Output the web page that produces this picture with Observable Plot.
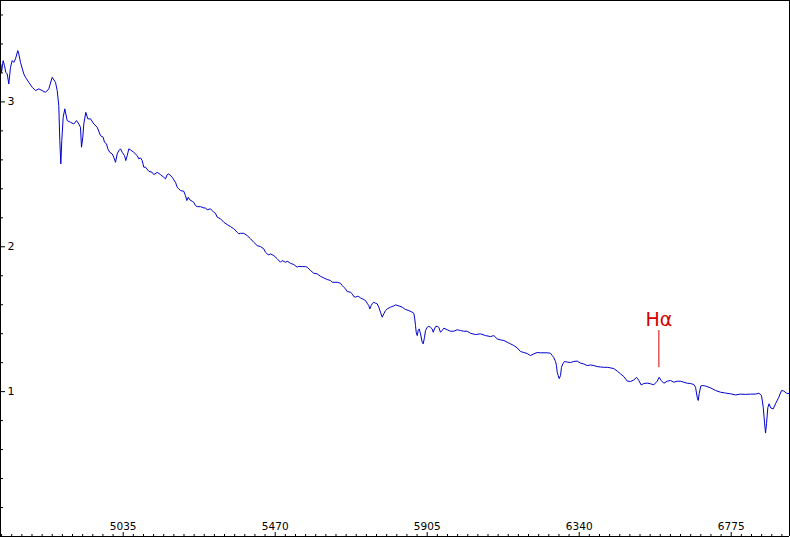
<!DOCTYPE html>
<html>
<head>
<meta charset="utf-8">
<script src="https://cdn.jsdelivr.net/npm/d3@7"></script>
<script src="https://cdn.jsdelivr.net/npm/@observablehq/plot@0.6"></script>
<style>
  html, body { margin: 0; padding: 0; background: #fff; }
  #chart svg { display: block; }
</style>
</head>
<body>
<div id="chart"></div>
<script>
// Wavelength (Angstrom) and relative flux
const wavelength = [
4685.3,4686.8,4691.6,4695.3,4699.1,4703.1,4707.7,4712.5,4717.4,4721.9,4726.8,4733.4,4736.3,4741.1,4750.6,4755.4,4764.9,4774.6,4784.1,4793.5,
4803.2,4812.7,4822.1,4831.9,4841.3,4846.2,4850.7,4853.6,4856.5,4859.3,4863.3,4867.9,4874.8,4884.2,4893.7,4901.4,4908.0,4912.8,4915.7,4919.4,
4922.3,4928.0,4933.7,4941.5,4950.9,4960.6,4970.1,4977.8,4981.5,4987.3,4991.0,4996.7,5003.6,5008.1,5013.0,5017.9,5022.5,5027.3,5032.2,5038.8,
5042.5,5046.5,5051.1,5056.0,5065.4,5075.1,5079.7,5084.5,5089.4,5094.0,5098.9,5108.3,5118.0,5122.6,5132.3,5141.8,5151.2,5156.1,5160.9,5165.5,
5175.3,5179.9,5184.7,5189.6,5194.1,5199.0,5208.5,5213.3,5217.1,5221.1,5225.6,5232.5,5237.1,5241.9,5246.8,5256.3,5265.7,5270.6,5275.4,5284.9,
5289.7,5294.3,5299.2,5304.0,5308.6,5313.5,5323.0,5332.7,5342.1,5351.6,5361.3,5365.9,5370.7,5380.2,5389.9,5399.4,5408.8,5418.5,5428.0,5437.4,
5442.3,5447.1,5451.7,5456.6,5466.0,5475.8,5485.2,5490.1,5499.5,5504.4,5513.8,5523.3,5533.0,5537.6,5547.3,5556.7,5561.6,5571.1,5580.5,5590.2,
5599.7,5609.1,5618.8,5628.3,5633.2,5647.5,5656.9,5661.8,5666.4,5671.2,5676.1,5685.5,5690.4,5695.0,5699.8,5704.7,5709.3,5714.1,5723.6,5728.4,
5733.3,5737.9,5740.7,5744.7,5748.5,5752.2,5757.1,5761.9,5766.5,5771.4,5776.2,5780.8,5785.7,5790.5,5800.0,5809.4,5814.3,5823.7,5833.4,5842.9,
5852.4,5862.1,5866.7,5869.5,5871.5,5873.6,5876.4,5879.3,5882.1,5885.9,5890.7,5893.6,5897.3,5900.2,5905.0,5909.6,5914.4,5919.3,5922.2,5925.9,
5928.8,5933.6,5938.2,5943.1,5948.0,5952.5,5962.3,5971.7,5981.2,5990.9,6000.3,6009.8,6019.5,6028.9,6043.2,6057.6,6071.9,6086.2,6095.6,6105.3,
6114.8,6124.3,6134.0,6143.4,6152.9,6162.6,6172.0,6181.5,6191.2,6200.6,6210.1,6219.8,6229.3,6248.4,6257.8,6262.7,6267.3,6272.2,6275.0,6277.0,
6279.9,6282.7,6286.5,6289.3,6293.1,6297.9,6305.7,6315.1,6324.6,6334.3,6343.7,6353.2,6362.9,6372.3,6381.8,6391.5,6401.0,6410.4,6420.1,6429.6,
6439.0,6448.7,6458.2,6467.6,6477.4,6486.8,6496.3,6504.0,6510.6,6517.4,6524.9,6534.6,6544.1,6553.5,6563.2,6568.9,6574.7,6582.1,6591.9,6601.3,
6610.8,6620.5,6630.0,6639.4,6649.1,6658.5,6668.0,6672.9,6677.7,6680.6,6683.4,6688.0,6692.1,6701.5,6715.8,6730.2,6744.5,6758.8,6773.1,6787.4,
6801.6,6816.0,6830.3,6844.6,6854.0,6861.7,6866.6,6870.3,6873.2,6876.0,6879.8,6883.2,6888.3,6895.2,6901.8,6911.2,6918.9,6925.5,6933.2,6939.8
];
const flux = [
3.257,3.204,3.285,3.251,3.204,3.193,3.124,3.239,3.285,3.273,3.297,3.354,3.331,3.273,3.193,3.170,3.135,3.101,3.078,3.090,
3.078,3.066,3.090,3.170,3.135,3.078,2.974,2.733,2.572,2.733,2.894,2.952,2.871,2.859,2.848,2.871,2.848,2.825,2.687,2.756,
2.848,2.928,2.883,2.883,2.848,2.825,2.767,2.756,2.721,2.710,2.676,2.652,2.641,2.618,2.583,2.641,2.664,2.676,2.652,2.629,
2.595,2.629,2.676,2.669,2.652,2.629,2.607,2.614,2.595,2.549,2.549,2.521,2.514,2.498,2.514,2.498,2.480,2.469,2.498,2.503,
2.480,2.462,2.445,2.411,2.400,2.388,2.383,2.353,2.319,2.342,2.324,2.314,2.307,2.284,2.277,2.277,2.268,2.268,2.255,2.262,
2.250,2.238,2.231,2.204,2.199,2.193,2.169,2.153,2.139,2.124,2.100,2.089,2.093,2.093,2.077,2.055,2.031,2.008,2.001,1.986,
1.962,1.951,1.944,1.951,1.939,1.917,1.893,1.905,1.893,1.900,1.886,1.877,1.859,1.865,1.863,1.863,1.859,1.836,1.817,1.813,
1.796,1.785,1.774,1.767,1.755,1.755,1.748,1.732,1.720,1.710,1.691,1.686,1.675,1.656,1.652,1.658,1.656,1.647,1.636,1.629,
1.610,1.594,1.571,1.594,1.610,1.617,1.610,1.606,1.583,1.548,1.514,1.537,1.560,1.571,1.583,1.592,1.599,1.592,1.583,1.567,
1.560,1.548,1.541,1.502,1.456,1.410,1.387,1.422,1.433,1.399,1.341,1.330,1.375,1.422,1.444,1.451,1.444,1.433,1.410,1.433,
1.449,1.451,1.444,1.410,1.422,1.438,1.427,1.417,1.417,1.427,1.422,1.417,1.417,1.403,1.394,1.399,1.387,1.380,1.387,1.364,
1.357,1.353,1.341,1.330,1.318,1.302,1.277,1.270,1.263,1.249,1.261,1.270,1.268,1.268,1.265,1.249,1.235,1.208,1.180,1.134,
1.111,1.090,1.111,1.168,1.192,1.208,1.204,1.201,1.208,1.211,1.197,1.191,1.180,1.184,1.180,1.173,1.170,1.168,1.168,1.164,
1.159,1.142,1.123,1.104,1.073,1.070,1.080,1.099,1.077,1.046,1.056,1.059,1.054,1.047,1.072,1.099,1.077,1.058,1.072,1.077,
1.065,1.072,1.072,1.065,1.058,1.056,1.049,1.030,0.961,0.939,0.987,1.039,1.042,1.039,1.026,1.008,0.996,0.990,0.985,0.977,
0.983,0.981,0.983,0.983,0.989,0.973,0.892,0.789,0.714,0.778,0.890,0.916,0.887,0.881,0.916,0.961,1.008,1.004,0.989,0.987
];

// Axis ticks
const xMajorTicks = [5035, 5470, 5905, 6340, 6775];
const xMinorStep = 29;
const yMajorTicks = [1, 2, 3];
const yMinorStep = 0.2;

// H-alpha annotation
const annotationLabel = ["H\u03b1"];
const annotationWavelength = [6568];
const annotationFluxTop = [1.422];
const annotationFluxBottom = [1.166];
const annotationLabelFlux = [1.455];

const xDomain = [4683.9, 6941.8];
const yDomain = [0, 3.7];

const spectrum = wavelength.map((w, i) => ({w, f: flux[i]}));
const xMinor = d3.range(4687, xDomain[1], xMinorStep).filter(v => !xMajorTicks.some(m => Math.abs(m - v) < 1));
const yMinor = d3.range(yMinorStep, yDomain[1], yMinorStep).map(v => +v.toFixed(2)).filter(v => !yMajorTicks.includes(v));

const W = 790, H = 537;
const plotW = 789;
const plotH = 536;

const chart = Plot.plot({
  width: W,
  height: H,
  marginLeft: 0,
  marginRight: 1,
  marginTop: 0,
  marginBottom: 1,
  style: {fontFamily: "DejaVu Sans, Verdana, sans-serif", background: "#fff", overflow: "visible"},
  x: {domain: xDomain, axis: null},
  y: {domain: yDomain, axis: null},
  marks: [
    // spectrum
    Plot.line(spectrum, {x: "w", y: "f", stroke: "#0000cc", strokeWidth: 1, clip: true}),
    // frame lines
    Plot.ruleY([yDomain[1]], {stroke: "#000"}),
    Plot.ruleY([yDomain[0]], {stroke: "#000"}),
    Plot.ruleX([xDomain[0]], {stroke: "#000"}),
    Plot.ruleX([xDomain[1]], {stroke: "#000"}),
    // y ticks (inside)
    Plot.tickY(yMajorTicks, {y: d => d, stroke: "#000", insetRight: plotW - 5}),
    Plot.tickY(yMinor, {y: d => d, stroke: "#000", insetRight: plotW - 3}),
    Plot.text(yMajorTicks, {y: d => d, text: d => String(d), frameAnchor: "left", dx: 7, textAnchor: "start", lineAnchor: "middle", fontSize: 11, fill: "#000"}),
    // x ticks (inside)
    Plot.tickX(xMajorTicks, {x: d => d, stroke: "#000", insetTop: plotH - 4}),
    Plot.tickX(xMinor, {x: d => d, stroke: "#000", insetTop: plotH - 2}),
    Plot.text(xMajorTicks, {x: d => d, y: yDomain[0], text: d => String(d), dy: -6.5, lineAnchor: "bottom", fontSize: 10.5, fill: "#000"}),
    // H-alpha marker
    Plot.ruleX(annotationWavelength, {x: d => d, y1: annotationFluxBottom[0], y2: annotationFluxTop[0], stroke: "#d40000"}),
    Plot.text(annotationLabel, {x: annotationWavelength[0], y: annotationLabelFlux[0], text: d => d, lineAnchor: "bottom", fontSize: 19, fill: "#d40000"})
  ]
});
document.getElementById("chart").appendChild(chart);
</script>
</body>
</html>
